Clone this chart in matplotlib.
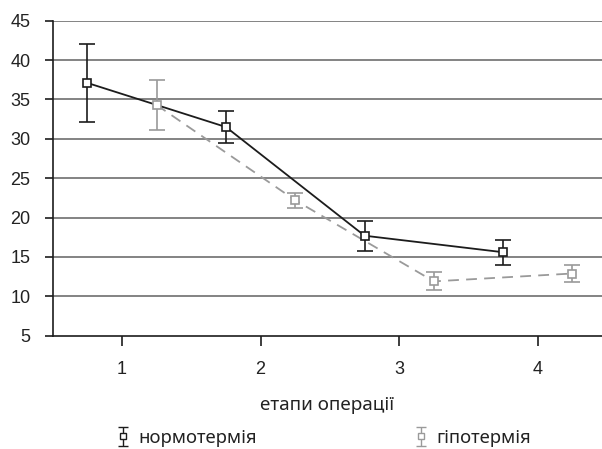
import matplotlib
matplotlib.use("Agg")
import numpy as np
import matplotlib.pyplot as plt
from matplotlib.legend_handler import HandlerErrorbar

stages = [1, 2, 3, 4]
stage_labels = ["1", "2", "3", "4"]
norm_vals = [37.1, 31.5, 17.7, 15.6]
norm_err = [5.0, 2.0, 1.9, 1.6]
hypo_vals = [34.3, 22.2, 11.9, 12.9]
hypo_err = [3.2, 0.95, 1.15, 1.1]
# dashed line of the hypothermia series has an extra bend between stages 3 and 4
hypo_line_x = [1.25, 2.25, 3.25, 3.75, 4.25]
hypo_line_y = [34.3, 22.2, 11.9, 12.4, 12.9]
yticks = [5, 10, 15, 20, 25, 30, 35, 40, 45]
series_names = ["нормотермія", "гіпотермія"]

off = 0.25
dark = "#1c1c1c"
grey = "#9a9a9a"

fig = plt.figure(figsize=(6.02, 4.49), dpi=100)
ax = fig.add_axes([0.0875, 0.2523, 0.9125, 0.7016])

for y in yticks[1:]:
    ax.axhline(y, color="#7a7a7a", lw=1.3, zorder=1)

nx = [s - off for s in stages]
hx = [s + off for s in stages]
ax.plot(nx, norm_vals, color=dark, lw=1.3, zorder=3)
ax.plot(hypo_line_x, hypo_line_y, color=grey, lw=1.3, ls=(0, (6, 4)), zorder=2)

ax.errorbar(nx, norm_vals, yerr=norm_err, fmt="s", ms=5.5, mfc="white", mec=dark,
            mew=1.2, ecolor=dark, elinewidth=1.2, capsize=6, capthick=1.2, zorder=4)
ax.errorbar(hx, hypo_vals, yerr=hypo_err, fmt="s", ms=5.5, mfc="white", mec=grey,
            mew=1.2, ecolor=grey, elinewidth=1.2, capsize=6, capthick=1.2, zorder=4)

# legend proxies (smaller symbols)
p1 = ax.errorbar([np.nan], [np.nan], yerr=[1], fmt="s", ms=4.5, mfc="white", mec=dark,
                 mew=1.0, ecolor=dark, elinewidth=1.0, capsize=3.5, capthick=1.0)
p2 = ax.errorbar([np.nan], [np.nan], yerr=[1], fmt="s", ms=4.5, mfc="white", mec=grey,
                 mew=1.0, ecolor=grey, elinewidth=1.0, capsize=3.5, capthick=1.0)

ax.set_xlim(0.5, 4.463)
ax.set_ylim(5, 45)
ax.set_yticks(yticks)
ax.set_xticks(stages)
ax.set_xticklabels(stage_labels)
for s in ["top", "right"]:
    ax.spines[s].set_visible(False)
for s in ["left", "bottom"]:
    ax.spines[s].set_color(dark)
    ax.spines[s].set_linewidth(1.2)
ax.tick_params(axis="y", length=6, width=1.2, color=dark, labelsize=13, pad=10)
ax.tick_params(axis="x", length=7, width=1.2, color=dark, labelsize=13, pad=11)
for lab in ax.get_xticklabels() + ax.get_yticklabels():
    lab.set_fontfamily("Liberation Sans")
    lab.set_color("#222222")

ax.set_xlabel("етапи операції", fontsize=13.6, family="Noto Sans", color="#222222", labelpad=13)

hm = {type(p1): HandlerErrorbar(xerr_size=0.3, yerr_size=0.5)}
for handle, name, xpos in [(p1, series_names[0], 0.1915), (p2, series_names[1], 0.6866)]:
    lg = fig.legend([handle], [name], loc="center left", bbox_to_anchor=(xpos, 0.025),
                    frameon=False, prop={"family": "Noto Sans", "size": 13.3},
                    handlelength=0.8, handletextpad=0.45, borderpad=0, borderaxespad=0,
                    handler_map=hm)
    for t in lg.get_texts():
        t.set_color("#222222")

fig.savefig("out.png", dpi=100)
